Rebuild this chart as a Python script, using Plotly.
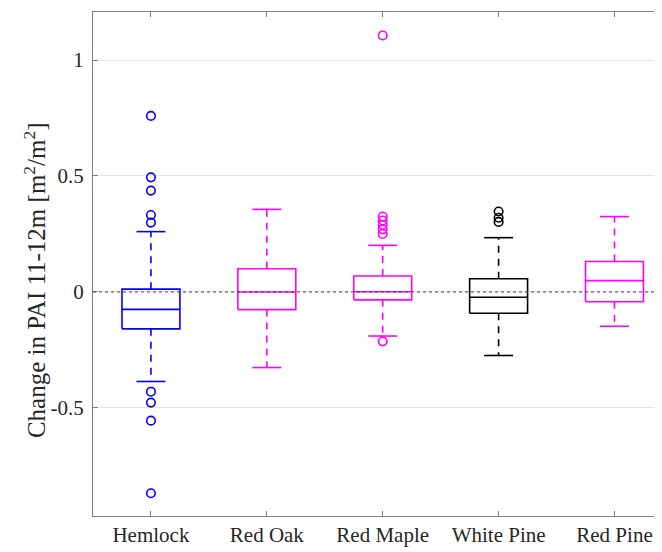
import plotly.graph_objects as go

categories = ["Hemlock", "Red Oak", "Red Maple", "White Pine", "Red Pine"]
colors = ["#0000FF", "#FF00FF", "#FF00FF", "#000000", "#FF00FF"]

lower_whisker = [-0.386, -0.326, -0.190, -0.274, -0.148]
q1 = [-0.159, -0.076, -0.034, -0.092, -0.042]
median = [-0.075, 0.000, 0.001, -0.023, 0.049]
q3 = [0.012, 0.100, 0.069, 0.057, 0.131]
upper_whisker = [0.260, 0.356, 0.201, 0.234, 0.325]

outliers = [
    [0.759, 0.494, 0.437, 0.332, 0.299, -0.430, -0.477, -0.555, -0.868],
    [],
    [1.106, 0.325, 0.308, 0.289, 0.270, 0.250, -0.213],
    [0.347, 0.320, 0.302],
    [],
]

y_ticks = [-0.5, 0, 0.5, 1]
y_tick_labels = ["-0.5", "0", "0.5", "1"]
y_title = "Change in PAI 11-12m [m<sup>2</sup>/m<sup>2</sup>]"

BOX_HALF = 0.25
CAP_HALF = 0.125
LW = 1.6

fig = go.Figure()

# zero reference line
fig.add_shape(type="line", xref="paper", x0=0, x1=1, yref="y", y0=0, y1=0,
              line=dict(color="#444444", width=1, dash="3px,3px"), layer="above")

for i, cat in enumerate(categories):
    pos = i + 1
    c = colors[i]
    fig.add_trace(go.Scatter(
        x=[pos - BOX_HALF, pos + BOX_HALF, pos + BOX_HALF, pos - BOX_HALF, pos - BOX_HALF],
        y=[q1[i], q1[i], q3[i], q3[i], q1[i]],
        mode="lines", line=dict(color=c, width=LW), showlegend=False, hoverinfo="skip"))
    fig.add_trace(go.Scatter(
        x=[pos - BOX_HALF, pos + BOX_HALF], y=[median[i], median[i]],
        mode="lines", line=dict(color=c, width=LW), showlegend=False, hoverinfo="skip"))
    fig.add_trace(go.Scatter(
        x=[pos, pos, None, pos, pos],
        y=[q3[i], upper_whisker[i], None, q1[i], lower_whisker[i]],
        mode="lines", line=dict(color=c, width=LW, dash="7px,6px"), showlegend=False, hoverinfo="skip"))
    fig.add_trace(go.Scatter(
        x=[pos - CAP_HALF, pos + CAP_HALF, None, pos - CAP_HALF, pos + CAP_HALF],
        y=[upper_whisker[i], upper_whisker[i], None, lower_whisker[i], lower_whisker[i]],
        mode="lines", line=dict(color=c, width=LW), showlegend=False, hoverinfo="skip"))
    if outliers[i]:
        fig.add_trace(go.Scatter(
            x=[pos] * len(outliers[i]), y=outliers[i], mode="markers",
            marker=dict(symbol="circle-open", size=8.5, color=c, line=dict(width=1.6, color=c)),
            showlegend=False, hoverinfo="skip"))

font_family = "Liberation Serif, DejaVu Serif, serif"
axis_color = "#7f7f7f"
text_color = "#262626"

fig.add_annotation(
    text=y_title, xref="paper", yref="paper", x=-0.102, y=0.468,
    xanchor="center", yanchor="middle", textangle=-90, showarrow=False,
    font=dict(family=font_family, size=25, color=text_color))

fig.update_layout(
    width=654, height=544,
    margin=dict(l=85, r=0, t=4, b=36),
    paper_bgcolor="white", plot_bgcolor="white",
    font=dict(family=font_family, size=21, color=text_color),
    xaxis=dict(
        range=[0.5, 5.41], tickmode="array", tickvals=[1, 2, 3, 4, 5], ticktext=categories,
        showline=True, linecolor=axis_color, linewidth=1, mirror="ticks",
        ticks="inside", ticklen=5, tickcolor=axis_color, showgrid=False, zeroline=False,
        tickfont=dict(size=21, color=text_color),
    ),
    yaxis=dict(
        range=[-0.966, 1.207], tickmode="array", tickvals=y_ticks, ticktext=y_tick_labels,
        showline=True, linecolor=axis_color, linewidth=1, mirror=False,
        ticks="inside", ticklen=5, tickcolor=axis_color, ticklabelstandoff=4,
        showgrid=True, gridcolor="#e6e6e6", gridwidth=1, zeroline=False,
        tickfont=dict(size=21, color=text_color),
    ),
)

fig.write_html("out.html")
